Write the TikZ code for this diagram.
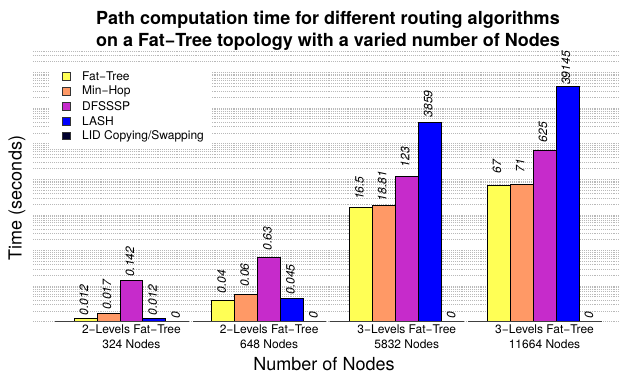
\documentclass[tikz,border=0pt]{standalone}
\usepackage{fontspec}
\setmainfont{TeX Gyre Heros}
\definecolor{cFat}{HTML}{FFFF55}
\definecolor{cMin}{HTML}{FF9966}
\definecolor{cDfs}{HTML}{C62BCB}
\definecolor{cLash}{HTML}{0000FF}
\definecolor{cLid}{HTML}{00002E}
\colorlet{bar0}{cFat}
\colorlet{bar1}{cMin}
\colorlet{bar2}{cDfs}
\colorlet{bar3}{cLash}
\begin{document}
\begin{tikzpicture}[x=1pt,y=-1pt,
  font=\fontsize{12}{14}\selectfont,
  gridline/.style={draw=gray!55, line width=0.6pt, dash pattern=on 0.8pt off 1.1pt},
  barbox/.style={draw=black, line width=0.8pt},
  axisline/.style={draw=black!75, line width=1.2pt},
  vlabel/.style={rotate=90, inner sep=0pt, font=\itshape\fontsize{12}{14}\selectfont},
  keybox/.style={draw=black!80, line width=0.8pt, minimum size=7.5pt, inner sep=0pt},
  keytext/.style={anchor=west, inner sep=0pt},
  grouplabel/.style={anchor=base, inner sep=0pt},
  titletext/.style={anchor=base, inner sep=0pt, font=\bfseries\fontsize{18}{21}\selectfont},
  axistitle/.style={inner sep=0pt, font=\fontsize{18}{21}\selectfont}]
\useasboundingbox (0,0) rectangle (619,375);

% log10 axis: baseline at 10^-2, 35.63 units per decade
\def\ybase{321.7}
\def\dec{35.63}

% dotted grid at every m*10^k
\foreach \k in {-2,...,5} {
  \foreach \m in {1,...,9} {
    \pgfmathsetmacro\yy{\ybase-\dec*(\k+2+log10(\m))}
    \pgfmathtruncatemacro\ok{\yy>49 ? 1 : 0}
    \ifnum\ok=1 \draw[gridline] (33,\yy) -- (619,\yy); \fi
  }
}

% legend background hides the grid
\fill[white] (49,66) rectangle (212,148);

% bars with rotated value labels; each entry is value/(log10(value)+2)
\foreach \vals [count=\g from 0] in {
    {0.012/0.0792,0.017/0.2304,0.142/1.1523,0.012/0.0792},
    {0.04/0.6021,0.06/0.7782,0.63/1.7993,0.045/0.6532},
    {16.5/3.2175,18.81/3.2744,123/4.0899,3859/5.5865},
    {67/3.8261,71/3.8513,625/4.7959,39145/6.5927}} {
  \foreach \v/\lv [count=\i from 0] in \vals {
    \pgfmathsetmacro\xl{74+137.7*\g+22.95*\i}
    \pgfmathsetmacro\xr{\xl+22.95}
    \pgfmathsetmacro\xc{\xl+11.475-1.5}
    \pgfmathsetmacro\yt{\ybase-\dec*\lv}
    \draw[barbox, fill=bar\i] (\xl,\ybase) rectangle (\xr,\yt);
    \node[vlabel] (val-\g-\i) at (\xc,\yt-18.8) {\v};
  }
  % LID copying/swapping: zero value
  \pgfmathsetmacro\xz{74+137.7*\g+22.95*4+11.475-1.5}
  \node[vlabel] (zero-\g) at (\xz,315.5) {0};
  % axis segment under the group
  \pgfmathsetmacro\sa{51.05+137.7*\g+4}
  \pgfmathsetmacro\sb{51.05+137.7*(\g+1)}
  \coordinate (axa-\g) at (\sa,\ybase);
  \coordinate (axb-\g) at (\sb,\ybase);
  \draw[axisline] (axa-\g) -- (axb-\g);
}

% group names, two lines each
\foreach \lvl/\cnt [count=\g from 0] in {2/324, 2/648, 3/5832, 3/11664} {
  \pgfmathsetmacro\gx{131.4+137.7*\g}
  \node[grouplabel] (grp-\g-a) at (\gx,333.3) {\lvl−Levels Fat−Tree};
  \node[grouplabel] (grp-\g-b) at (\gx,348.8) {\cnt\ Nodes};
}

% legend
\foreach \col/\name [count=\r from 0] in {cFat/{Fat−Tree}, cMin/{Min−Hop}, cDfs/{DFSSSP}, cLash/{LASH}, cLid/{LID Copying/Swapping}} {
  \pgfmathsetmacro\ly{76.3+14.95*\r}
  \node[keybox, fill=\col] (key-\r) at (66.5,\ly) {};
  \node[keytext] (keytxt-\r) at (82,\ly) {\name};
}

% titles
\node[titletext] (title-a) at (328,24) {Path computation time for different routing algorithms};
\node[titletext] (title-b) at (328,46.5) {on a Fat−Tree topology with a varied number of Nodes};
\node[axistitle] (xtitle) at (324,364) {Number of Nodes};
\node[axistitle, rotate=90] (ytitle) at (17,198) {Time (seconds)};
\end{tikzpicture}
\end{document}
